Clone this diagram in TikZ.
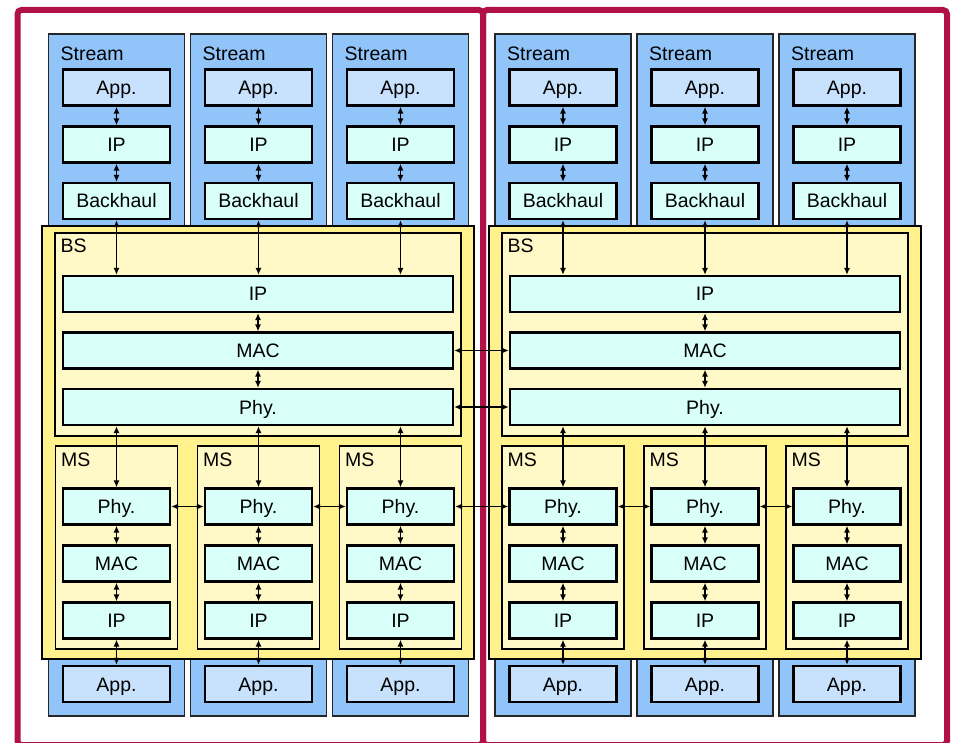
\documentclass[tikz,border=0pt]{standalone}
\usepackage{fontspec}
\setmainfont{Liberation Sans}
\usepackage{tikz}
\usetikzlibrary{arrows.meta,positioning,calc}
\definecolor{streamblue}{RGB}{145,197,250}
\definecolor{appblue}{RGB}{200,225,252}
\definecolor{layercyan}{RGB}{217,255,250}
\definecolor{bsyellow}{RGB}{255,242,140}
\definecolor{msyellow}{RGB}{255,249,200}
\definecolor{framered}{RGB}{178,16,72}

\begin{document}
\begin{tikzpicture}
  [
    x=1pt, y=-1pt,
    >={Latex[length=7pt,width=6pt]},
    Frame/.style={draw=framered, line width=6pt, rounded corners=4pt},
    Stream/.style={rectangle, draw=black!85, fill=streamblue, line width=1.6pt, minimum width=136pt, minimum height=682pt, inner sep=0pt},
    BSOuter/.style={rectangle, draw=black, fill=bsyellow, line width=1.6pt, minimum width=432pt, minimum height=433pt, inner sep=0pt},
    BSInner/.style={rectangle, draw=black, fill=msyellow, line width=1.6pt, minimum width=406pt, minimum height=203pt, inner sep=0pt},
    MSBox/.style={rectangle, draw=black, fill=msyellow, line width=1.6pt, minimum width=122pt, minimum height=203pt, inner sep=0pt},
    Layer/.style={rectangle, draw=black, fill=layercyan, line width=2.2pt, minimum width=107pt, minimum height=36pt, inner sep=0pt, font=\fontsize{19.5}{23}\selectfont, text height=14pt, text depth=0pt},
    App/.style={Layer, fill=appblue},
    Wide/.style={Layer, minimum width=390pt},
    Tag/.style={anchor=base west, inner sep=0pt, font=\fontsize{19.5}{23}\selectfont},
    Link/.style={<->, draw, line width=1.7pt}
  ]
  \useasboundingbox (0,0) rectangle (953,743);
  % Frames
  \draw[Frame] (17.5,10) rectangle (483,745);
  \draw[Frame] (483,10) rectangle (947,745);
  % Streams
  \foreach \x/\s in {116.5/1, 258.5/2, 400.5/3, 563/4, 705/5, 847/6} {
    \node[Stream] (str\s) at (\x, 375) {};
    \node[Tag] (strtag\s) at ({\x-56}, 61) {Stream};
    \node[App] (app\s) at (\x, 87.5) {App.};
    \node[Layer] (ip\s) at (\x, 144.5) {IP};
    \node[Layer] (bh\s) at (\x, 201) {Backhaul};
  }
  % Base stations
  \foreach \x/\h in {258/1, 705/2} {
    \node[BSOuter] (bs\h) at (\x, 442.5) {};
    \node[BSInner] (bsin\h) at (\x, 334.5) {};
    \node[Tag] (bstag\h) at ({\x-197.5}, 253) {BS};
    \node[Wide] (bsip\h) at (\x, 294) {IP};
    \node[Wide] (bsmac\h) at (\x, 350.5) {MAC};
    \node[Wide] (bsphy\h) at (\x, 407) {Phy.};
  }
  % Mobile stations
  \foreach \x/\s in {116.5/1, 258.5/2, 400.5/3, 563/4, 705/5, 847/6} {
    \node[MSBox] (ms\s) at (\x, 547.5) {};
    \node[Tag] (mstag\s) at ({\x-55.5}, 466) {MS};
    \node[Layer] (msphy\s) at (\x, 506.5) {Phy.};
    \node[Layer] (msmac\s) at (\x, 563.5) {MAC};
    \node[Layer] (msip\s) at (\x, 620.5) {IP};
    \node[App] (msapp\s) at (\x, 684) {App.};
  }
  % Lines
  \foreach \s/\h in {1/1, 2/1, 3/1, 4/2, 5/2, 6/2} {
    \draw[Link] (app\s) -- (ip\s);
    \draw[Link] (ip\s) -- (bh\s);
    \draw[Link] (bh\s) -- (bh\s |- bsip\h.north);
    \draw[Link] (msphy\s |- bsphy\h.south) -- (msphy\s);
    \draw[Link] (msphy\s) -- (msmac\s);
    \draw[Link] (msmac\s) -- (msip\s);
    \draw[Link] (msip\s) -- (msapp\s);
  }
  \foreach \h in {1, 2} {
    \draw[Link] (bsip\h) -- (bsmac\h);
    \draw[Link] (bsmac\h) -- (bsphy\h);
  }
  \draw[Link] (bsmac1) -- (bsmac2);
  \draw[Link] (bsphy1) -- (bsphy2);
  \foreach \a/\b in {1/2, 2/3, 3/4, 4/5, 5/6}
    \draw[Link] (msphy\a) -- (msphy\b);
\end{tikzpicture}
\end{document}
